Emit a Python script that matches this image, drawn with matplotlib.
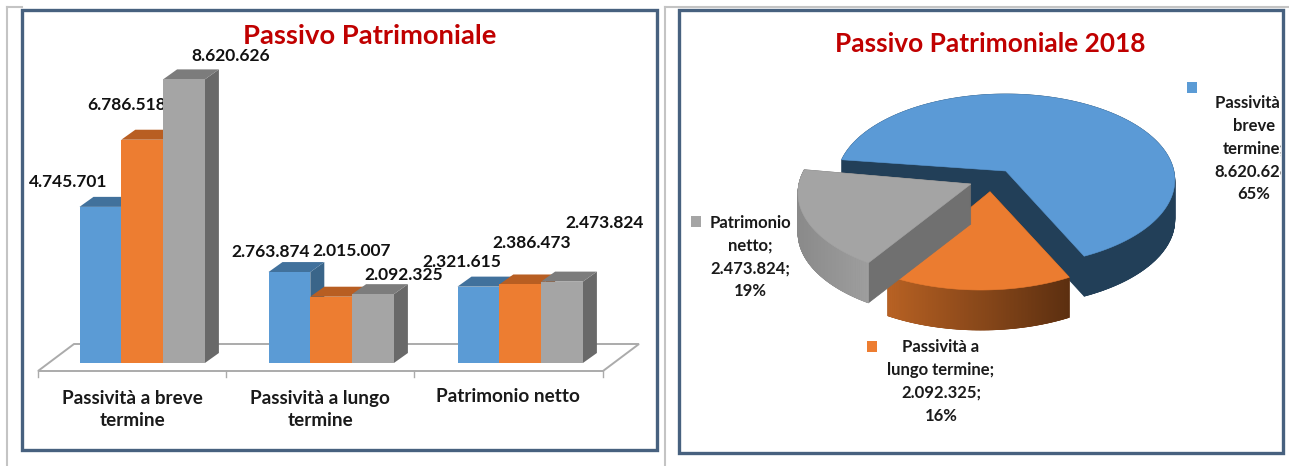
import numpy as np
import matplotlib
matplotlib.use("Agg")
import matplotlib.pyplot as plt
from matplotlib.patches import Polygon, Rectangle
from matplotlib.transforms import Bbox, TransformedBbox

plt.rcParams['font.family'] = ['Lato', 'DejaVu Sans']

# ---- data ----
categories = ["Passività a breve\ntermine", "Passività a lungo\ntermine", "Patrimonio netto"]
series_a = [4745701, 2763874, 2321615]
series_b = [6786518, 2015007, 2386473]
series_c = [8620626, 2092325, 2473824]
value_labels_a = ["4.745.701", "2.763.874", "2.321.615"]
value_labels_b = ["6.786.518", "2.015.007", "2.386.473"]
value_labels_c = ["8.620.626", "2.092.325", "2.473.824"]
pie_values = [8620626, 2092325, 2473824]
pie_labels = ["Passività a\nbreve\ntermine;\n8.620.626;\n65%",
              "Passività a\nlungo termine;\n2.092.325;\n16%",
              "Patrimonio\nnetto;\n2.473.824;\n19%"]
title_left = "Passivo Patrimoniale"
title_right = "Passivo Patrimoniale 2018"

W, H = 1289, 466
fig = plt.figure(figsize=(W / 100, H / 100), dpi=100, facecolor="white")

# pixel-space axes for frames / pie
ax = fig.add_axes([0, 0, 1, 1])
ax.set_xlim(0, W); ax.set_ylim(H, 0); ax.axis("off")

# value-scale axes for bars: baseline at pixel y=363
PX_PER_UNIT = 32.9e-6
BASE = 363
axb = fig.add_axes([0, 0, 1, 1], facecolor="none")
axb.set_xlim(0, W)
axb.set_ylim((BASE - H) / PX_PER_UNIT, BASE / PX_PER_UNIT)
axb.axis("off")

FRAME = "#47617F"
# faint screen-grab rules
for xs, ys in [((7, 7), (7, 466)), ((7, 22), (7, 7)), ((665, 665), (7, 466)), ((665, 1289), (7, 7))]:
    ax.plot(xs, ys, color="#C4C4C4", lw=1.5, zorder=0)
ax.add_patch(Rectangle((22, 9.5), 635, 440, fc="white", ec=FRAME, lw=2.4, zorder=1))
ax.add_patch(Rectangle((679, 9.5), 604, 443, fc="white", ec=FRAME, lw=2.4, zorder=1))

# ---- floor of the 3-D column chart ----
ax.add_patch(Polygon([(38, 371), (603, 371), (639, 344), (74, 344)], closed=True,
                     fc="white", ec="#ABABAB", lw=1.4, zorder=2))
for x in (38, 226, 414, 603):
    ax.plot([x, x], [371, 377], color="#ABABAB", lw=1, zorder=2)

# ---- 3-D bars ----
DX, DY = 14, 10 / PX_PER_UNIT
BAR_W, GROUP_STEP, X0 = 41.8, 189, 79.5
fronts = ["#5B9BD5", "#ED7D31", "#A5A5A5"]
tops = ["#41719C", "#B85E22", "#7C7C7C"]
sides = ["#3A6589", "#A5541D", "#696969"]
for j, vals in enumerate([series_a, series_b, series_c]):
    xs = np.array([X0 + GROUP_STEP * i + BAR_W * j for i in range(len(vals))])
    for x, v in zip(xs, vals):
        z = 3 + j * 0.1
        axb.add_patch(Polygon([(x + BAR_W, 0), (x + BAR_W + DX, DY), (x + BAR_W + DX, v + DY), (x + BAR_W, v)],
                              closed=True, fc=sides[j], ec="none", zorder=z))
        axb.add_patch(Polygon([(x, v), (x + DX, v + DY), (x + BAR_W + DX, v + DY), (x + BAR_W, v)],
                              closed=True, fc=tops[j], ec="none", zorder=z))
    axb.bar(xs, vals, width=BAR_W, align="edge", color=fronts[j], zorder=3 + j * 0.1 + 0.05)

VAL_FS = 12.5
val_pos = {
    "4.745.701": (68, 182), "6.786.518": (127, 105), "8.620.626": (231, 56),
    "2.763.874": (271, 252), "2.015.007": (352, 251), "2.092.325": (404, 275),
    "2.321.615": (462, 262), "2.386.473": (532, 243), "2.473.824": (605, 223),
}
for lab in value_labels_a + value_labels_b + value_labels_c:
    x, y = val_pos[lab]
    ax.text(x, y, lab, ha="center", va="center", fontsize=VAL_FS, fontweight="bold", color="#111111", zorder=6)

for i, c in enumerate(categories):
    y = 409.5 if "\n" in c else 397
    ax.text(132 + 188 * i, y, c, ha="center", va="center", fontsize=13.6, fontweight="bold",
            color="#1a1a1a", linespacing=1.32, zorder=6)

ax.text(370, 36, title_left, ha="center", va="center", fontsize=19.7, fontweight="bold", color="#C00000", zorder=6)
ax.text(990, 44, title_right, ha="center", va="center", fontsize=18.9, fontweight="bold", color="#C00000", zorder=6)

# ---- 3-D exploded pie ----
A, B, DEPTH = 169, 86, 40
total = sum(pie_values)
# per-slice perspective geometry: ellipse centre, apex, mid-angle, sweep stretch
centres = [(1005.8, 180), (981, 204), (967, 193)]
apexes = [(1005.8, 171), (990, 191.7), (970.9, 184)]
mids = [52, -91, 199.3]
stretch = [0.972, 1.138, 1.037]
pie_top = ["#5B9AD6", "#EB7C30", "#A4A4A4"]
pie_wall = ["#223F58", "#8A4A1C", "#707070"]
side_left = [(0x22, 0x3F, 0x58), (0xB8, 0x62, 0x24), (0x8A, 0x8A, 0x8A)]
side_right = [(0x22, 0x3F, 0x58), (0x5C, 0x2F, 0x10), (0x9E, 0x9E, 0x9E)]

for k in (0, 2, 1):
    sweep = pie_values[k] / total * 360 * stretch[k]
    t = np.radians(np.linspace(mids[k] + sweep / 2, mids[k] - sweep / 2, 240))
    cx, cy = centres[k]
    ax_, ay_ = apexes[k]
    px = cx + A * np.cos(t)
    py = cy - B * np.sin(t)
    outline = np.column_stack([np.r_[ax_, px], np.r_[ay_, py]])
    z = 3 + k * 0.1
    # inner walls: sweep the sector down through the depth
    for d in np.linspace(DEPTH, 0, 41):
        ax.add_patch(Polygon(outline + [0, d], closed=True, fc=pie_wall[k], ec=pie_wall[k], lw=0.5, zorder=z))
    # rim with horizontal shading
    lo, hi = px.min(), px.max()
    c0, c1 = np.array(side_left[k]) / 255, np.array(side_right[k]) / 255
    for i in range(len(t) - 1):
        if np.sin(t[i]) > 0.02 and np.sin(t[i + 1]) > 0.02 and abs(np.cos(t[i])) < 0.999:
            if not (k == 2 and np.cos(t[i]) < 0):
                continue
        f = np.clip((px[i] - lo) / max(hi - lo, 1), 0, 1)
        col = c0 * (1 - f) + c1 * f
        ax.add_patch(Polygon([(px[i], py[i]), (px[i + 1], py[i + 1]), (px[i + 1], py[i + 1] + DEPTH), (px[i], py[i] + DEPTH)],
                             closed=True, fc=col, ec=col, lw=0.5, zorder=z))
    ax.add_patch(Polygon(outline, closed=True, fc=pie_top[k], ec=pie_top[k], lw=0.4, zorder=z + 0.01))

PIE_FS = 12
clip = TransformedBbox(Bbox([[0, 0], [1281 / W, 1]]), fig.transFigure)
label_pos = [(1254, 148.5), (941, 381.5), (750.5, 257)]
for lab, (x, y) in zip(pie_labels, label_pos):
    t = ax.text(x, y, lab, ha="center", va="center", fontsize=PIE_FS, fontweight="bold",
                color="#1a1a1a", linespacing=1.52, zorder=6)
    t.set_clip_on(True)
    t.set_clip_box(clip)
for (x, y), c in zip([(1187, 82), (867, 341), (691, 216)], fronts):
    ax.add_patch(Rectangle((x, y), 10.2, 11, fc=c, ec="none", zorder=6))

fig.savefig("out.png", dpi=100, facecolor="white")
